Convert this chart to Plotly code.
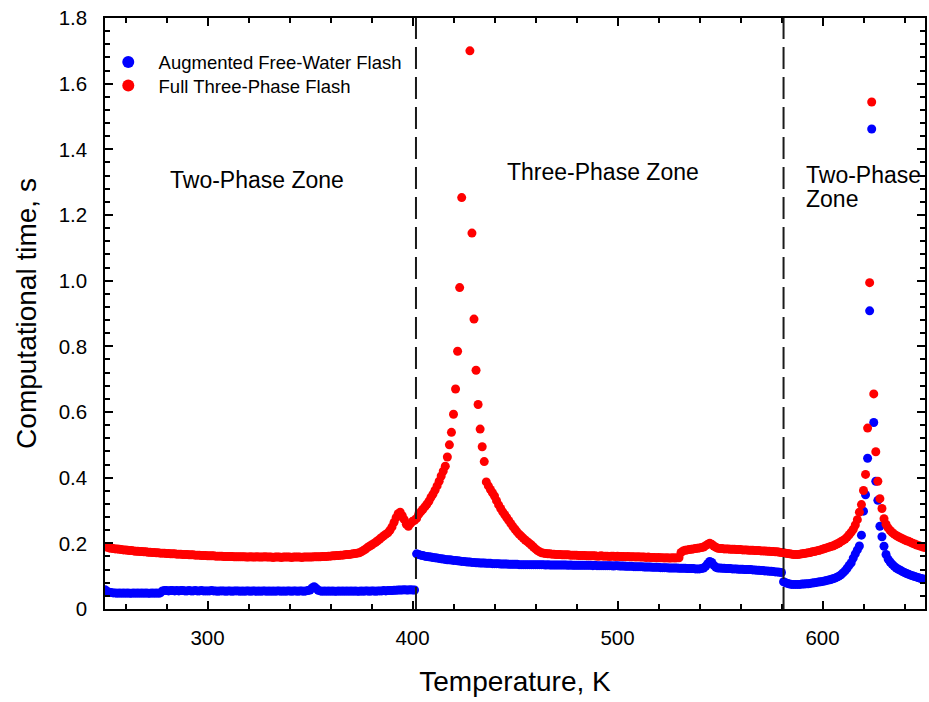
import plotly.graph_objects as go

# Temperature grid (K)
temperature = list(range(250, 651))

# Full Three-Phase Flash computational time (s), one value per K from 250 to 650
full_three_phase = [
    0.190, 0.188, 0.186, 0.185, 0.184, 0.183, 0.183, 0.182, 0.181, 0.180,
    0.180, 0.179, 0.178, 0.178, 0.177, 0.176, 0.176, 0.175, 0.175, 0.174,
    0.174, 0.173, 0.173, 0.172, 0.172, 0.171, 0.171, 0.170, 0.170, 0.170,
    0.169, 0.169, 0.168, 0.168, 0.168, 0.167, 0.167, 0.167, 0.166, 0.166,
    0.166, 0.165, 0.165, 0.165, 0.164, 0.164, 0.164, 0.163, 0.163, 0.163,
    0.162, 0.162, 0.162, 0.162, 0.161, 0.161, 0.161, 0.161, 0.160, 0.160,
    0.160, 0.160, 0.160, 0.159, 0.159, 0.159, 0.159, 0.159, 0.159, 0.158,
    0.158, 0.159, 0.158, 0.158, 0.159, 0.158, 0.158, 0.158, 0.159, 0.158,
    0.158, 0.158, 0.157, 0.158, 0.158, 0.158, 0.157, 0.158, 0.158, 0.158,
    0.158, 0.157, 0.158, 0.158, 0.158, 0.158, 0.157, 0.158, 0.158, 0.158,
    0.158, 0.158, 0.159, 0.159, 0.159, 0.159, 0.160, 0.160, 0.160, 0.161,
    0.161, 0.162, 0.162, 0.163, 0.163, 0.164, 0.164, 0.165, 0.166, 0.166,
    0.167, 0.168, 0.169, 0.170, 0.171, 0.174, 0.178, 0.182, 0.187, 0.191,
    0.195, 0.199, 0.203, 0.208, 0.213, 0.218, 0.223, 0.228, 0.232, 0.240,
    0.250, 0.264, 0.278, 0.290, 0.295, 0.284, 0.272, 0.258, 0.252, 0.260,
    0.267, 0.270, 0.276, 0.288, 0.296, 0.303, 0.311, 0.319, 0.328, 0.340,
    0.350, 0.362, 0.375, 0.389, 0.405, 0.420, 0.435, 0.463, 0.500, 0.538,
    0.593, 0.670, 0.785, 0.979, 1.253, None, None, None, 1.700, 1.145,
    0.883, 0.727, 0.623, 0.548, 0.494, 0.449, 0.387, 0.375, 0.364, 0.354,
    0.344, 0.330, 0.317, 0.306, 0.296, 0.287, 0.278, 0.269, 0.260, 0.251,
    0.243, 0.235, 0.228, 0.222, 0.216, 0.210, 0.205, 0.200, 0.195, 0.189,
    0.183, 0.178, 0.174, 0.171, 0.170, 0.169, 0.168, 0.168, 0.167, 0.167,
    0.166, 0.166, 0.166, 0.165, 0.165, 0.165, 0.165, 0.164, 0.164, 0.164,
    0.164, 0.163, 0.163, 0.163, 0.163, 0.162, 0.162, 0.162, 0.162, 0.162,
    0.161, 0.161, 0.162, 0.161, 0.161, 0.161, 0.160, 0.161, 0.161, 0.160,
    0.161, 0.160, 0.160, 0.160, 0.159, 0.160, 0.159, 0.159, 0.159, 0.158,
    0.159, 0.158, 0.158, 0.158, 0.157, 0.158, 0.157, 0.157, 0.157, 0.156,
    0.157, 0.156, 0.156, 0.155, 0.156, 0.155, 0.155, 0.156, 0.155, 0.156,
    0.156, 0.172, 0.177, 0.179, 0.180, 0.181, 0.182, 0.183, 0.184, 0.185,
    0.186, 0.187, 0.189, 0.193, 0.197, 0.200, 0.197, 0.192, 0.188, 0.185,
    0.184, 0.184, 0.183, 0.183, 0.183, 0.182, 0.182, 0.182, 0.181, 0.181,
    0.181, 0.180, 0.180, 0.180, 0.179, 0.179, 0.179, 0.178, 0.178, 0.178,
    0.177, 0.177, 0.177, 0.176, 0.176, 0.175, 0.175, 0.174, 0.174, 0.173,
    0.172, 0.171, 0.170, 0.169, 0.168, 0.167, 0.166, 0.166, 0.166, 0.167,
    0.168, 0.169, 0.170, 0.171, 0.172, 0.174, 0.175, 0.177, 0.178, 0.180,
    0.182, 0.184, 0.186, 0.188, 0.190, 0.192, 0.195, 0.198, 0.201, 0.205,
    0.209, 0.213, 0.219, 0.226, 0.234, 0.243, 0.256, 0.272, 0.295, 0.318,
    0.361, 0.410, 0.551, 0.994, 1.544, 0.655, 0.479, 0.389, 0.336, 0.306,
    0.275, 0.258, 0.247, 0.239, 0.233, 0.228, 0.224, 0.220, 0.217, 0.214,
    0.211, 0.208, 0.206, 0.203, 0.200, 0.198, 0.195, 0.193, 0.191, 0.189,
    0.187,
]

# Augmented Free-Water Flash computational time (s), one value per K from 250 to 650
augmented_free_water = [
    0.059, 0.054, 0.051, 0.050, 0.049, 0.049, 0.048, 0.049, 0.048, 0.049,
    0.048, 0.049, 0.048, 0.048, 0.049, 0.048, 0.049, 0.048, 0.049, 0.048,
    0.049, 0.048, 0.048, 0.049, 0.048, 0.049, 0.048, 0.049, 0.055, 0.056,
    0.056, 0.055, 0.056, 0.056, 0.055, 0.056, 0.055, 0.056, 0.056, 0.055,
    0.055, 0.056, 0.055, 0.055, 0.056, 0.055, 0.055, 0.056, 0.055, 0.055,
    0.055, 0.055, 0.056, 0.055, 0.055, 0.054, 0.055, 0.055, 0.055, 0.054,
    0.055, 0.055, 0.054, 0.055, 0.055, 0.055, 0.054, 0.055, 0.054, 0.055,
    0.055, 0.054, 0.055, 0.055, 0.054, 0.055, 0.054, 0.055, 0.055, 0.054,
    0.055, 0.054, 0.055, 0.054, 0.055, 0.055, 0.054, 0.055, 0.054, 0.055,
    0.055, 0.054, 0.055, 0.055, 0.054, 0.055, 0.055, 0.054, 0.055, 0.056,
    0.058, 0.064, 0.068, 0.063, 0.057, 0.055, 0.054, 0.055, 0.054, 0.055,
    0.054, 0.055, 0.054, 0.054, 0.055, 0.054, 0.055, 0.054, 0.055, 0.054,
    0.055, 0.054, 0.055, 0.054, 0.054, 0.055, 0.054, 0.055, 0.055, 0.054,
    0.055, 0.055, 0.054, 0.055, 0.055, 0.055, 0.056, 0.055, 0.056, 0.056,
    0.056, 0.057, 0.057, 0.058, 0.058, 0.058, 0.059, 0.058, 0.058, 0.059,
    0.058, 0.058, 0.168, 0.166, 0.164, 0.163, 0.161, 0.160, 0.159, 0.158,
    0.157, 0.156, 0.155, 0.154, 0.153, 0.152, 0.151, 0.150, 0.150, 0.149,
    0.148, 0.148, 0.147, 0.146, 0.145, 0.145, 0.144, 0.143, 0.143, 0.142,
    0.142, 0.141, 0.141, 0.140, 0.140, 0.140, 0.139, 0.139, 0.139, 0.138,
    0.138, 0.138, 0.138, 0.137, 0.137, 0.137, 0.137, 0.136, 0.136, 0.136,
    0.136, 0.136, 0.135, 0.135, 0.135, 0.135, 0.135, 0.135, 0.135, 0.135,
    0.135, 0.135, 0.135, 0.135, 0.135, 0.134, 0.135, 0.134, 0.134, 0.134,
    0.134, 0.134, 0.134, 0.134, 0.134, 0.134, 0.133, 0.134, 0.133, 0.133,
    0.133, 0.133, 0.133, 0.133, 0.133, 0.133, 0.133, 0.133, 0.132, 0.133,
    0.132, 0.132, 0.132, 0.132, 0.132, 0.132, 0.132, 0.132, 0.131, 0.132,
    0.132, 0.131, 0.131, 0.131, 0.130, 0.130, 0.130, 0.130, 0.129, 0.129,
    0.129, 0.129, 0.129, 0.128, 0.128, 0.128, 0.128, 0.127, 0.127, 0.127,
    0.127, 0.126, 0.126, 0.126, 0.126, 0.125, 0.125, 0.125, 0.125, 0.125,
    0.124, 0.124, 0.124, 0.124, 0.123, 0.123, 0.123, 0.123, 0.122, 0.122,
    0.122, 0.123, 0.125, 0.130, 0.138, 0.145, 0.142, 0.133, 0.127, 0.125,
    0.125, 0.124, 0.124, 0.123, 0.123, 0.123, 0.122, 0.122, 0.122, 0.121,
    0.121, 0.121, 0.120, 0.120, 0.120, 0.120, 0.119, 0.119, 0.118, 0.118,
    0.117, 0.117, 0.116, 0.116, 0.115, 0.115, 0.114, 0.113, 0.113, 0.112,
    0.111, 0.083, 0.080, 0.078, 0.076, 0.075, 0.075, 0.075, 0.075, 0.075,
    0.076, 0.076, 0.077, 0.077, 0.078, 0.079, 0.080, 0.081, 0.082, 0.083,
    0.084, 0.085, 0.087, 0.088, 0.090, 0.092, 0.094, 0.097, 0.100, 0.104,
    0.110, 0.116, 0.124, 0.133, 0.141, 0.155, 0.168, 0.180, 0.192, 0.225,
    0.298, 0.348, 0.459, 0.908, 1.462, 0.568, 0.389, 0.331, 0.252, 0.220,
    0.191, 0.166, 0.152, 0.143, 0.136, 0.130, 0.125, 0.121, 0.118, 0.114,
    0.111, 0.108, 0.106, 0.103, 0.101, 0.099, 0.097, 0.095, 0.093, 0.092,
    0.090,
]

series_names = ["Augmented Free-Water Flash", "Full Three-Phase Flash"]
series_colors = ["#0000FF", "#FF0000"]
series_legends = ["legend", "legend2"]

# Zone boundaries (K) and zone labels
zone_bounds = [401.7, 581.0]
zone_labels = ["Two-Phase Zone", "Three-Phase Zone", "Two-Phase", "Zone"]
zone_label_x = [324, 493, 591, 591]
zone_label_y = [1.307, 1.33, 1.322, 1.249]
zone_label_anchor = ["center", "center", "left", "left"]

y_tickvals = [0, 0.2, 0.4, 0.6, 0.8, 1.0, 1.2, 1.4, 1.6, 1.8]
y_ticktext = ["0", "0.2", "0.4", "0.6", "0.8", "1.0", "1.2", "1.4", "1.6", "1.8"]
x_tickvals = [300, 400, 500, 600]

FONT = "Arial, 'Liberation Sans', sans-serif"

fig = go.Figure()
for name, color, vals, lg in zip(series_names, series_colors,
                                 [augmented_free_water, full_three_phase], series_legends):
    fig.add_trace(go.Scatter(
        x=temperature, y=vals, mode="markers", name="&nbsp;&nbsp;" + name,
        marker=dict(color=color, size=9, line=dict(width=0)),
        cliponaxis=True, legend=lg,
    ))

for xb in zone_bounds:
    fig.add_shape(type="line", xref="x", yref="paper", x0=xb, x1=xb, y0=0, y1=1,
                  line=dict(color="#1a1a1a", width=2, dash="22px,8px"))

for txt, xx, yy, anc in zip(zone_labels, zone_label_x, zone_label_y, zone_label_anchor):
    fig.add_annotation(x=xx, y=yy, xref="x", yref="y", text=txt, showarrow=False,
                       xanchor=anc, yanchor="middle", align="left",
                       font=dict(family=FONT, size=23, color="black"))

legend_common = dict(xanchor="left", yanchor="top", bgcolor="rgba(0,0,0,0)",
                     font=dict(family=FONT, size=18.5), itemsizing="constant")

fig.update_layout(
    width=929, height=702,
    margin=dict(l=105, r=2, t=18, b=93),
    paper_bgcolor="white", plot_bgcolor="white",
    font=dict(family=FONT, color="black"),
    showlegend=True,
    legend=dict(x=0.004, y=0.957, **legend_common),
    legend2=dict(x=0.004, y=0.917, **legend_common),
)
fig.update_xaxes(
    range=[250, 650], tickvals=x_tickvals, ticks="inside", ticklen=8, tickwidth=1.5,
    tickcolor="black", showline=True, linecolor="black", linewidth=1.5,
    mirror="allticks", showgrid=False, zeroline=False,
    tickfont=dict(family=FONT, size=20.5), ticklabelstandoff=10,
    minor=dict(dtick=20, tick0=0, ticks="inside", ticklen=5, tickcolor="black", tickwidth=1.5),
    title=dict(text="Temperature, K", font=dict(family=FONT, size=28), standoff=23),
)
fig.update_yaxes(
    range=[0, 1.8], tickvals=y_tickvals, ticktext=y_ticktext, ticks="inside",
    ticklen=8, tickwidth=1.5, tickcolor="black", showline=True, linecolor="black",
    linewidth=1.5, mirror="allticks", showgrid=False, zeroline=False,
    tickfont=dict(family=FONT, size=20.5), ticklabelstandoff=12,
    minor=dict(dtick=0.04, tick0=0, ticks="inside", ticklen=5, tickcolor="black", tickwidth=1.5),
    title=dict(text="Computational time, s", font=dict(family=FONT, size=28), standoff=14),
)

fig.write_html("out.html")
